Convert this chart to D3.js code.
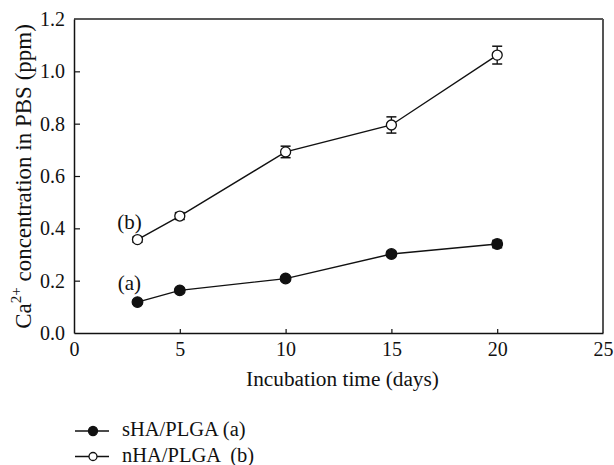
<!DOCTYPE html>
<html>
<head>
<meta charset="utf-8">
<script src="https://cdn.jsdelivr.net/npm/d3@7"></script>
<style>
body { margin: 0; background: #fff; }
text { font-family: "Liberation Serif", "DejaVu Serif", serif; fill: #111; }
</style>
</head>
<body>
<div id="chart"></div>
<script>
// data
var days = [3, 5, 10, 15, 20];
var sHA = [0.118, 0.163, 0.208, 0.302, 0.340];
var sHA_err = [0.008, 0.008, 0.008, 0.010, 0.014];
var nHA = [0.357, 0.447, 0.692, 0.795, 1.062];
var nHA_err = [0.010, 0.013, 0.022, 0.031, 0.034];
var x_ticks = [0, 5, 10, 15, 20, 25];
var y_ticks = [0, 0.2, 0.4, 0.6, 0.8, 1.0, 1.2];

var margin = { top: 19, right: 11, bottom: 132, left: 74 },
    width = 614 - margin.left - margin.right,
    height = 465 - margin.top - margin.bottom;

var svg = d3.select("#chart").append("svg")
    .attr("width", 614)
    .attr("height", 465);

var g = svg.append("g")
    .attr("transform", "translate(" + margin.left + "," + margin.top + ")");

var x = d3.scaleLinear().domain([0, 25]).range([0, width]);
var y = d3.scaleLinear().domain([0, 1.2]).range([height, 0]);

// frame (top / right)
g.append("line").attr("x1", 0).attr("x2", width).attr("y1", 0).attr("y2", 0)
    .attr("stroke", "#222").attr("stroke-width", 1.3);
g.append("line").attr("x1", width).attr("x2", width).attr("y1", 0).attr("y2", height)
    .attr("stroke", "#555").attr("stroke-width", 2);

// axes, ticks inward
var xAxis = g.append("g").attr("transform", "translate(0," + height + ")")
    .call(d3.axisBottom(x).tickValues(x_ticks).tickSizeInner(-4).tickSizeOuter(0).tickPadding(9));
var yAxis = g.append("g")
    .call(d3.axisLeft(y).tickValues(y_ticks).tickFormat(d3.format(".1f")).tickSizeInner(-6).tickSizeOuter(0).tickPadding(9));

[xAxis, yAxis].forEach(function (a) {
    a.attr("font-size", null).attr("font-family", null);
    a.select(".domain").attr("stroke", "#111").attr("stroke-width", 1.5);
    a.selectAll(".tick line").attr("stroke", "#111").attr("stroke-width", 1.2);
    a.selectAll("text").style("font-size", "20px").attr("fill", "#111");
});
xAxis.selectAll(".tick").filter(function (d) { return d == 0 || d == 25; }).select("line").remove();
yAxis.selectAll(".tick").filter(function (d) { return d == 0 || d == 1.2; }).select("line").remove();

// axis titles
g.append("text")
    .attr("x", x(12.5) + 4)
    .attr("y", height + 53)
    .attr("text-anchor", "middle")
    .style("font-size", "21.3px")
    .text("Incubation time (days)");

var ylab = svg.append("text")
    .attr("transform", "translate(31," + 176.5 + ") rotate(-90)")
    .attr("text-anchor", "middle")
    .style("font-size", "23px");
ylab.append("tspan").text("Ca");
ylab.append("tspan").attr("dy", -10).style("font-size", "15px").text("2+");
ylab.append("tspan").attr("dy", 10).text(" concentration in PBS (ppm)");

function drawSeries(vals, errs, filled) {
    var pts = days.map(function (d, i) { return { x: d, y: vals[i], e: errs[i] }; });
    var line = d3.line().x(function (d) { return x(d.x); }).y(function (d) { return y(d.y); });
    g.append("path").datum(pts)
        .attr("d", line).attr("fill", "none").attr("stroke", "#111").attr("stroke-width", 1.4);

    var eb = g.selectAll(null).data(pts).enter().append("g");
    eb.append("line")
        .attr("x1", function (d) { return x(d.x); }).attr("x2", function (d) { return x(d.x); })
        .attr("y1", function (d) { return y(d.y + d.e); }).attr("y2", function (d) { return y(d.y - d.e); })
        .attr("stroke", "#111").attr("stroke-width", 1.3);
    [1, -1].forEach(function (s) {
        eb.append("line")
            .attr("x1", function (d) { return x(d.x) - 5; }).attr("x2", function (d) { return x(d.x) + 5; })
            .attr("y1", function (d) { return y(d.y + s * d.e); }).attr("y2", function (d) { return y(d.y + s * d.e); })
            .attr("stroke", "#111").attr("stroke-width", 1.5);
    });
    eb.append("circle")
        .attr("cx", function (d) { return x(d.x); })
        .attr("cy", function (d) { return y(d.y); })
        .attr("r", filled ? 5.3 : 5)
        .attr("fill", filled ? "#111" : "#fff")
        .attr("stroke", "#111").attr("stroke-width", 1.3);
}

drawSeries(sHA, sHA_err, true);
drawSeries(nHA, nHA_err, false);

// series annotations
g.append("text").attr("x", x(2.62)).attr("y", y(nHA[0]) - 11)
    .attr("text-anchor", "middle").style("font-size", "21px").text("(b)");
g.append("text").attr("x", x(2.62)).attr("y", y(sHA[0]) - 12)
    .attr("text-anchor", "middle").style("font-size", "21px").text("(a)");

// legend
var legend_names = ["sHA/PLGA (a)", "nHA/PLGA  (b)"];
var leg = svg.selectAll(".leg").data(legend_names).enter().append("g")
    .attr("class", "leg")
    .attr("transform", function (d, i) { return "translate(75," + (431 + i * 25.5) + ")"; });
leg.append("line").attr("x1", 0).attr("x2", 34).attr("y1", 0).attr("y2", 0)
    .attr("stroke", "#111").attr("stroke-width", 1.4);
leg.append("circle").attr("cx", 18).attr("cy", 0).attr("r", function (d, i) { return i == 0 ? 4.5 : 4; })
    .attr("fill", function (d, i) { return i == 0 ? "#111" : "#fff"; })
    .attr("stroke", "#111").attr("stroke-width", 1.3);
leg.append("text").attr("x", 47).attr("y", 5)
    .style("font-size", "20.5px").style("white-space", "pre").text(function (d) { return d; });
</script>
</body>
</html>
